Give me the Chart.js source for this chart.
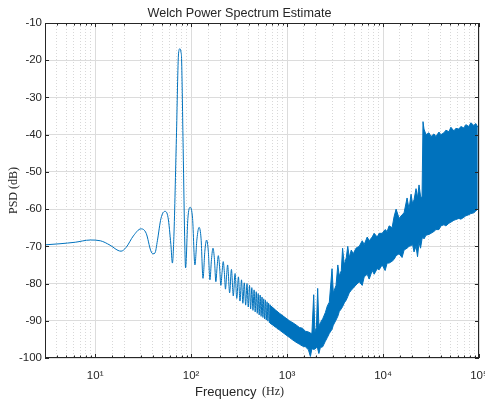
<!DOCTYPE html>
<html lang="en">
<head>
  <meta charset="UTF-8" />
  <title>Welch Power Spectrum Estimate</title>
  <script src="https://cdn.jsdelivr.net/npm/chart.js"></script>
  <style>
    html, body { margin: 0; padding: 0; background: #fff; }
    #wrap { width: 485px; height: 401px; }
  </style>
</head>
<body>
  <div id="wrap"><canvas id="psdChart" width="485" height="401"></canvas></div>

  <script>
  // low frequency part: window response + main tone + sidelobes (Hz, dB)
  const lineFreq = [3.0, 4.3, 6.2, 8.9, 11.3, 14.3, 17.3, 18.6, 21, 25, 30, 34, 38, 40, 42, 44.5,
    48.5, 53.3, 57.5, 61.5, 63.8, 66.1, 70.2, 74, 76.4, 78.6, 79.5, 82.6, 86, 87.5,
    92.5, 97.6, 103.5, 109.5, 115, 121, 127, 133, 139, 145, 151, 157, 163, 169, 175, 181,
    186.5, 192, 198, 204, 210, 216, 222, 228, 234, 240, 252, 263, 275, 287, 299, 311, 323,
    335, 346, 358, 370, 382, 394, 406, 417, 429, 441, 453, 465, 477, 489, 500, 512, 524,
    536, 548, 560, 571, 583, 595, 607, 619, 631, 642, 654, 666, 678, 690, 701, 713, 725,
    737, 749];
  const lineDb = [-69.6, -69.3, -68.9, -68.3, -68.5, -69.7, -71.1, -71.3, -70.3, -67.2, -65.3, -66.5, -71.2, -72, -71.8, -68.5,
    -62.5, -60.6, -62.3, -69.5, -74.5, -67.4, -41, -18.1, -16.9, -18, -19.5, -43.7, -70, -75.8,
    -62.5, -59.5, -62.5, -75, -68, -64.9, -68, -78.6, -71.3, -68.3, -71.3, -79, -73.5, -70.5, -73.5, -79.5,
    -75.5, -72.5, -75.5, -80.5, -77, -74.1, -77, -81.5, -78, -75, -82.5, -76.2, -83.3, -77.3, -84, -78.2, -84.7,
    -79, -85.3, -79.8, -85.8, -80, -86.3, -80.5, -86.8, -81.1, -87.2, -81.7, -87.6, -82.2, -88, -82.7, -88.4, -83.1,
    -88.8, -83.6, -89.1, -84.1, -89.5, -84.5, -89.8, -84.9, -90.1, -85.3, -90.5, -85.7, -90.8, -86.1, -91.1, -86.5, -91.4,
    -86.8, -91.7];

  // noisy high frequency part, read as upper / lower edge of the band
  const bandFreq = [657, 834, 1059, 1194, 1345, 1445, 1553, 1668, 1750, 1814, 1894, 1949,
    2020, 2084, 2145, 2222, 2348, 2505, 2627, 2755, 2940, 3032, 3236, 3379, 3501, 3673, 3788, 3946,
    4139, 4290, 4446, 4665, 4894, 5221, 5647, 6067, 6364, 6838, 7173, 7705, 8083, 8684, 9111, 9788,
    10515, 11030, 11570, 12430, 13040, 13680, 14700, 15790, 16560, 17800, 18660, 19580, 20300, 21030,
    22070, 22870, 23710, 24580, 25480, 26090, 26720, 28030, 30110, 31580, 33940, 35600, 38240, 40120,
    43110, 45210, 48580, 50950, 54750, 57430, 61700, 64710, 69540, 72940, 78380, 82210, 88310, 92630, 97170];
  const bandHigh = [-85.8, -88, -90, -90.8, -91.8, -92, -92.8, -93, -93.3, -93.4, -83, -93,
    -91.8, -81.3, -91.5, -90.5, -89.5, -87.8, -86, -85, -76, -82.5, -80.5, -75, -78, -76.5, -70.5, -75,
    -73, -70, -73, -71, -72, -70.5, -70, -68.5, -69.5, -67.5, -68.5, -67.5, -66.5, -67.5, -66.5, -66.5,
    -65.5, -66, -64.5, -65, -62, -60, -62.5, -61.5, -61, -57, -60, -56, -58.5, -57.5,
    -54.5, -57, -53.5, -56.5, -57, -36.5, -38.5, -40, -39.5, -40.5, -39.8, -40.5, -39.3, -40,
    -39.5, -38.8, -39.2, -38, -39, -38.3, -38.5, -37.8, -38.2, -37.3, -37.8, -36.8, -37.5, -37, -38];
  const bandLow = [-90.5, -92.5, -94.5, -95.5, -96.3, -96.8, -97, -97.8, -99.6, -97.5, -97.7, -97.6,
    -97.2, -97.5, -98.8, -97.2, -97, -95.5, -94.5, -93.4, -92.3, -91.2, -89.8, -88.8, -87.5, -86.8, -86.2, -85.2,
    -84.4, -83.5, -82.5, -81.8, -81.2, -80.4, -79.5, -80.5, -78.2, -77.5, -78.8, -76.5, -77.5, -76, -76.3, -75,
    -76.5, -74.5, -74.5, -74, -73.5, -72.5, -72, -73, -71, -70.5, -70, -69.8, -69.5, -71.5,
    -70, -72.8, -69, -70.5, -68, -67.5, -68, -67, -66.8, -66.5, -66, -65.5, -65.5, -64.5,
    -64.2, -64.5, -63.8, -63.5, -63, -62.8, -62.5, -62.7, -62.2, -61.8, -61.5, -61.2, -61, -60.5, -60];

  const yTicks = [-100, -90, -80, -70, -60, -50, -40, -30, -20, -10];

  const blue = '#0072BD';
  const axisColor = '#262626';
  const sup = { 1: '\u00b9', 2: '\u00b2', 3: '\u00b3', 4: '\u2074', 5: '\u2075' };

  function isDecade(v) {
    const l = Math.log10(v);
    return Math.abs(l - Math.round(l)) < 1e-6;
  }

  const pts = (xs, ys) => xs.map((x, i) => ({ x: x, y: ys[i] }));

  // box, inward tick marks and the x label (mixed fonts)
  const frame = {
    id: 'frame',
    afterDraw(chart) {
      const { ctx, chartArea: a, scales } = chart;
      ctx.save();
      ctx.strokeStyle = axisColor;
      ctx.lineWidth = 1;
      ctx.beginPath();
      scales.x2.ticks.forEach(t => {
        const px = Math.round(scales.x2.getPixelForValue(t.value)) + 0.5;
        const len = isDecade(t.value) ? 4 : 2.5;
        ctx.moveTo(px, a.bottom); ctx.lineTo(px, a.bottom - len);
        ctx.moveTo(px, a.top); ctx.lineTo(px, a.top + len);
      });
      scales.y.ticks.forEach(t => {
        const py = Math.round(scales.y.getPixelForValue(t.value)) + 0.5;
        ctx.moveTo(a.left, py); ctx.lineTo(a.left + 4, py);
        ctx.moveTo(a.right, py); ctx.lineTo(a.right - 4, py);
      });
      ctx.stroke();
      ctx.strokeRect(Math.round(a.left) + 0.5, Math.round(a.top) + 0.5,
        Math.round(a.right - a.left) - 1, Math.round(a.bottom - a.top) - 1);

      ctx.fillStyle = axisColor;
      ctx.textBaseline = 'middle';
      ctx.textAlign = 'left';
      ctx.font = '13px "Liberation Sans", Arial, sans-serif';
      ctx.fillText('Frequency', 195, 392);
      ctx.font = '12px "Liberation Serif", serif';
      ctx.fillText('(Hz)', 262, 392);
      ctx.restore();
    }
  };

  new Chart(document.getElementById('psdChart'), {
    type: 'line',
    data: {
      datasets: [
        {
          data: pts(lineFreq, lineDb),
          borderColor: blue,
          borderWidth: 1,
          pointRadius: 0,
          cubicInterpolationMode: 'monotone',
          fill: false
        },
        {
          data: pts(bandFreq, bandHigh),
          borderColor: blue,
          backgroundColor: blue,
          borderWidth: 1,
          pointRadius: 0,
          fill: '+1'
        },
        {
          data: pts(bandFreq, bandLow),
          borderColor: blue,
          borderWidth: 1,
          pointRadius: 0,
          fill: false
        }
      ]
    },
    options: {
      responsive: false,
      animation: false,
      layout: { padding: { left: 0, right: 6, top: 0, bottom: 0 } },
      plugins: {
        legend: { display: false },
        tooltip: { enabled: false },
        title: {
          display: true,
          text: 'Welch Power Spectrum Estimate',
          color: axisColor,
          font: { family: '"Liberation Sans", Arial, sans-serif', size: 12.6, weight: 'normal' },
          padding: { top: 6, bottom: 1.9 }
        }
      },
      scales: {
        x: {
          type: 'logarithmic',
          position: 'bottom',
          min: 3,
          max: 100000,
          border: { display: false },
          grid: {
            drawTicks: false,
            color: ctx => isDecade(ctx.tick.value) ? '#dcdcdc' : 'rgba(0,0,0,0)'
          },
          ticks: {
            autoSkip: false,
            maxRotation: 0,
            padding: 11,
            color: axisColor,
            font: { family: '"Liberation Sans", Arial, sans-serif', size: 11.5 },
            callback: v => isDecade(v) ? '10' + sup[Math.round(Math.log10(v))] : ''
          },
          afterFit: s => { s.height = 43; s.paddingLeft = 0; s.paddingRight = 0; }
        },
        x2: {
          type: 'logarithmic',
          position: 'top',
          min: 3,
          max: 100000,
          border: { display: false, dash: [1, 2] },
          grid: {
            drawTicks: false,
            color: ctx => isDecade(ctx.tick.value) ? 'rgba(0,0,0,0)' : '#d8d8d8'
          },
          ticks: { display: false },
          afterFit: s => { s.height = 0; s.paddingLeft = 0; s.paddingRight = 0; }
        },
        y: {
          min: -100,
          max: -10,
          border: { display: false },
          grid: { drawTicks: false, color: '#dcdcdc' },
          afterBuildTicks: s => { s.ticks = yTicks.map(v => ({ value: v })); },
          ticks: {
            padding: 3,
            color: axisColor,
            font: { family: '"Liberation Sans", Arial, sans-serif', size: 11.5 }
          },
          title: {
            display: true,
            text: 'PSD (dB)',
            color: axisColor,
            font: { family: '"Liberation Serif", serif', size: 12 },
            padding: { top: 7, bottom: 0 }
          },
          afterFit: s => { s.width = 45; s.paddingTop = 0; s.paddingBottom = 0; }
        }
      }
    },
    plugins: [frame]
  });
  </script>
</body>
</html>
